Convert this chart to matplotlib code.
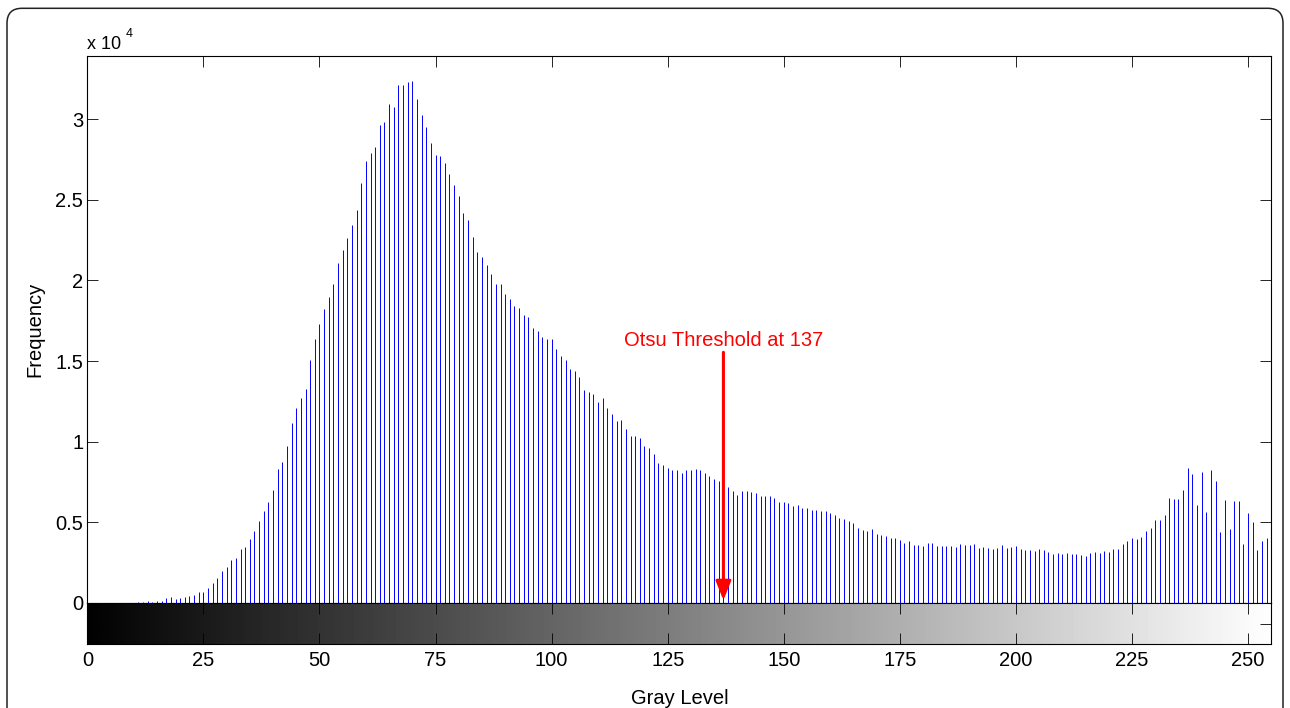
import matplotlib
matplotlib.use('Agg')
import matplotlib.pyplot as plt
import numpy as np
from matplotlib.patches import FancyBboxPatch
from matplotlib.transforms import IdentityTransform

plt.rcParams['font.family'] = ['Liberation Sans', 'DejaVu Sans']

# histogram counts per gray level
gray_levels = np.arange(256)
counts = [
    0, 0, 0, 0, 0, 0, 0, 0, 0, 0, 0,                                   # 0-10
    20, 20, 80, 40, 80, 120, 270, 370, 230,                             # 11-19
    310, 350, 390, 500, 640, 620, 910, 1240, 1550, 1950,                # 20-29
    2190, 2650, 2770, 3330, 3440, 3930, 4450, 5070, 5710, 6230,         # 30-39
    6980, 8320, 8760, 9700, 11180, 12090, 12710, 13250, 15060, 16370,   # 40-49
    17310, 18250, 19000, 19790, 21090, 21920, 22650, 23440, 24380, 26070,  # 50-59
    27440, 27910, 28290, 29660, 29850, 30940, 30790, 32120, 32120, 32290,  # 60-69
    32370, 31260, 30240, 29530, 28550, 27800, 27740, 27260, 26600, 25940,  # 70-79
    25240, 24210, 23780, 22690, 21760, 21430, 20930, 20370, 19810, 19790,  # 80-89
    19190, 18860, 18390, 18300, 17850, 17760, 17040, 16870, 16480, 16340,  # 90-99
    16340, 15760, 15320, 15090, 14530, 14390, 13980, 13210, 13080, 12940,  # 100-109
    12440, 12690, 12090, 11740, 11300, 11370, 10810, 10330, 10350, 10250,  # 110-119
    9730, 9590, 9210, 8670, 8520, 8360, 8260, 8240, 8050, 8240,         # 120-129
    8240, 8320, 8220, 8030, 7890, 7700, 7580, 7410, 7180, 6960,         # 130-139
    6710, 6960, 6920, 6870, 6810, 6650, 6650, 6600, 6500, 6230,         # 140-149
    6270, 6210, 6020, 6070, 5900, 5880, 5780, 5730, 5710, 5710,         # 150-159
    5570, 5420, 5260, 5200, 5050, 4920, 4660, 4530, 4450, 4580,         # 160-169
    4270, 4180, 4160, 4040, 4020, 3890, 3730, 3850, 3560, 3560,         # 170-179
    3520, 3710, 3690, 3520, 3520, 3520, 3520, 3460, 3640, 3560,         # 180-189
    3580, 3640, 3420, 3480, 3400, 3330, 3420, 3560, 3420, 3460,         # 190-199
    3500, 3350, 3270, 3250, 3210, 3310, 3250, 3170, 3040, 3060,         # 200-209
    3020, 3080, 3020, 3000, 2960, 2900, 3080, 3130, 3110, 3210,         # 210-219
    3150, 3350, 3350, 3640, 3810, 4000, 3950, 4080, 4470, 4640,         # 220-229
    5110, 5130, 5450, 6500, 6420, 6420, 7000, 8340, 7990, 6090,         # 230-239
    8140, 5650, 8260, 7540, 4410, 6380, 4600, 6290, 6290, 3640,         # 240-249
    5570, 5030, 3250, 3850, 4020, 7040,                                 # 250-255
]

threshold = 137
threshold_label = 'Otsu Threshold at 137'
y_ticks = [0, 5000, 10000, 15000, 20000, 25000, 30000]
y_tick_labels = ['0', '0.5', '1', '1.5', '2', '2.5', '3']
x_ticks = [0, 25, 50, 75, 100, 125, 150, 175, 200, 225, 250]

fig = plt.figure(figsize=(12.9, 7.08), dpi=100)
ax = fig.add_axes([0.0677, 0.1487, 0.9178, 0.7722])
cax = fig.add_axes([0.0677, 0.0900, 0.9178, 0.0583])

# stems
ax.vlines(gray_levels, 0, counts, color='#0000ff', lw=0.7)
ax.set_xlim(0, 255)
ax.set_ylim(0, 33930)
ax.set_yticks(y_ticks, y_tick_labels)
ax.set_xticks(x_ticks)
ax.tick_params(axis='x', bottom=True, top=True, labelbottom=False,
               direction='in', length=8, width=0.6)
ax.tick_params(axis='y', left=True, right=True, direction='in',
               length=8, width=0.6, labelsize=14.5, pad=3)
for s in ax.spines.values():
    s.set_linewidth(0.8)
ax.set_ylabel('Frequency', fontsize=14.5)
ax.yaxis.set_label_coords(-0.036, 0.5)

# exponent label
ax.text(0.0, 1.0128, 'x 10', transform=ax.transAxes, fontsize=13,
        va='baseline', ha='left')
ax.text(0.0322, 1.0353, '4', transform=ax.transAxes, fontsize=9,
        va='baseline', ha='left')

# threshold arrow
ax.annotate('', xy=(threshold, 150), xytext=(threshold, 15540),
            arrowprops=dict(arrowstyle='-|>,head_length=1.15,head_width=0.46',
                            color='red', lw=2.2, shrinkA=0, shrinkB=0,
                            mutation_scale=10))
ax.text(threshold, 16270, threshold_label, color='red', fontsize=14.5,
        ha='center', va='center')

# gray level colorbar
cax.imshow(gray_levels[np.newaxis, :], cmap='gray', aspect='auto',
           extent=[-0.5, 255.5, 0, 1], vmin=0, vmax=255)
cax.set_xlim(0, 255)
cax.set_ylim(0, 1)
cax.set_xticks(x_ticks)
cax.set_yticks([0.5], [''])
cax.tick_params(axis='x', bottom=True, top=True, direction='in', length=8,
                width=0.6, labelsize=14.5, pad=4.8)
cax.tick_params(axis='y', left=True, right=True, direction='in', length=8,
                width=0.6)
for s in cax.spines.values():
    s.set_linewidth(0.8)
cax.set_xlabel('Gray Level', fontsize=14.5, labelpad=14)

# rounded frame around the figure
frame = FancyBboxPatch((7, -30), 1276, 729.7, boxstyle='round,pad=0,rounding_size=15',
                       transform=IdentityTransform(), fill=False,
                       ec='#222222', lw=1.1)
fig.add_artist(frame)

fig.savefig('out.png', dpi=100)
